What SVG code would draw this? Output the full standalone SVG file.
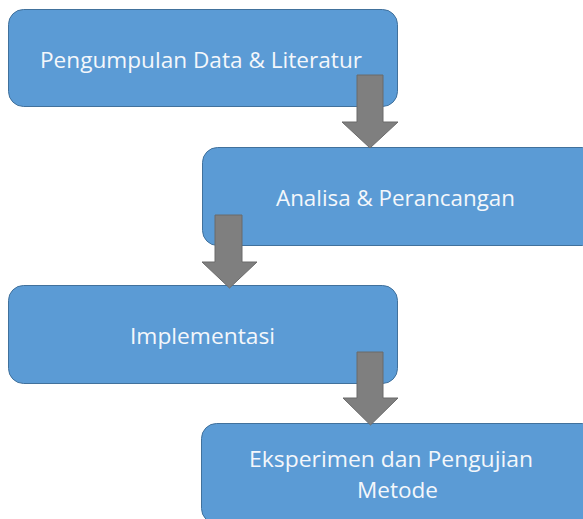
<svg xmlns="http://www.w3.org/2000/svg" width="583" height="519" viewBox="0 0 583 519">
  <style>
    .box { fill: #5b9bd5; stroke: #41719c; stroke-width: 1; }
    .lbl { fill: #f4f7fb; font-family: "Open Sans", "Liberation Sans", sans-serif; font-size: 21px; text-anchor: middle; }
    .arr { fill: #7f7f7f; stroke: #6b6b6b; stroke-width: 1; }
  </style>
  <rect width="583" height="519" fill="#ffffff"/>
  <g id="node1">
    <rect class="box" x="8.5" y="9.5" width="389" height="97" rx="15" ry="15"/>
    <text class="lbl" x="201" y="68" textLength="322" lengthAdjust="spacingAndGlyphs">Pengumpulan Data &amp; Literatur</text>
  </g>
  <g id="node2">
    <rect class="box" x="202.5" y="147.5" width="395" height="98" rx="15" ry="15"/>
    <text class="lbl" x="395.5" y="206" textLength="239" lengthAdjust="spacingAndGlyphs">Analisa &amp; Perancangan</text>
  </g>
  <g id="node3">
    <rect class="box" x="8.5" y="285.5" width="389" height="98" rx="15" ry="15"/>
    <text class="lbl" x="202.5" y="344" textLength="145" lengthAdjust="spacingAndGlyphs">Implementasi</text>
  </g>
  <g id="node4">
    <rect class="box" x="201.5" y="423.5" width="396" height="100" rx="15" ry="15"/>
    <text class="lbl" x="391" y="467" textLength="284" lengthAdjust="spacingAndGlyphs">Eksperimen dan Pengujian</text>
    <text class="lbl" x="397.5" y="498" textLength="81" lengthAdjust="spacingAndGlyphs">Metode</text>
  </g>
  <g id="connectors">
    <polygon class="arr" points="357,75 383,75 383,122 398,122 370,148 342,122 357,122"/>
    <polygon class="arr" points="215,215 242,215 242,262 257,262 229.5,288 202,262 215,262"/>
    <polygon class="arr" points="357,352 383,352 383,398 398,398 370.5,425 343,398 357,398"/>
  </g>
</svg>
